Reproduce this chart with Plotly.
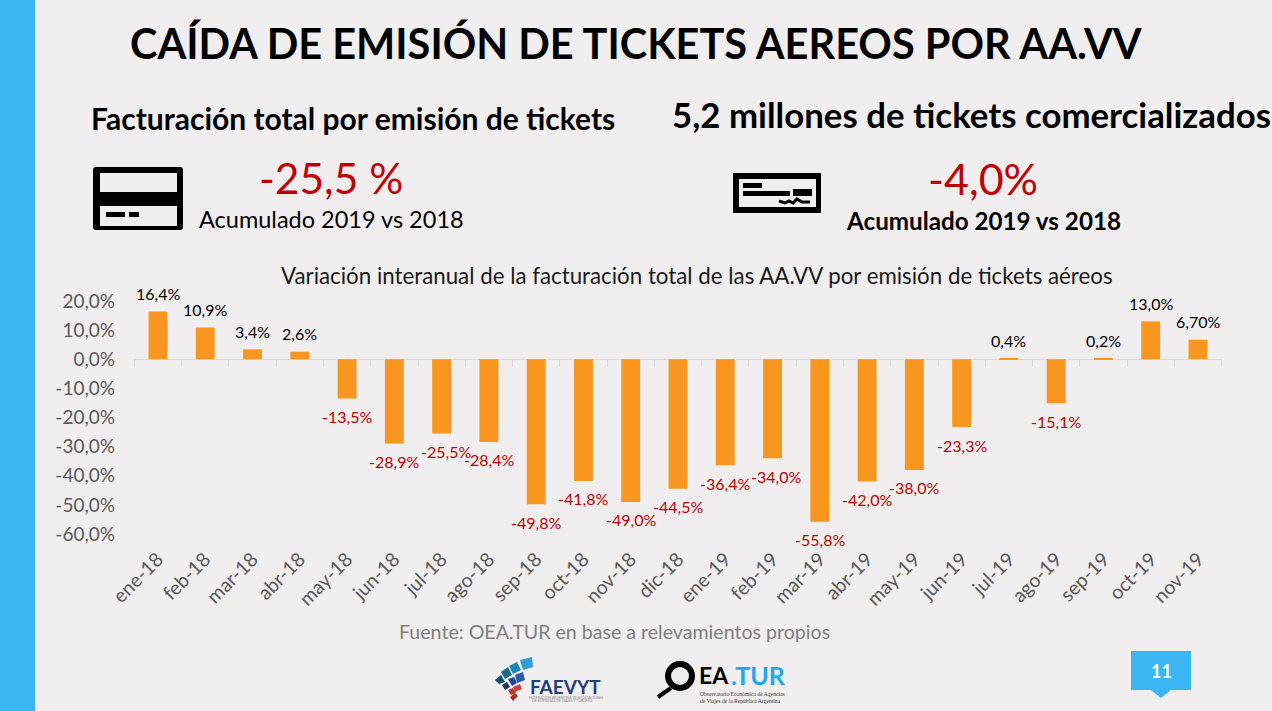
import plotly.graph_objects as go

W, H = 1272, 711
months = ["ene-18","feb-18","mar-18","abr-18","may-18","jun-18","jul-18","ago-18","sep-18","oct-18","nov-18","dic-18",
          "ene-19","feb-19","mar-19","abr-19","may-19","jun-19","jul-19","ago-19","sep-19","oct-19","nov-19"]
variation = [16.4,10.9,3.4,2.6,-13.5,-28.9,-25.5,-28.4,-49.8,-41.8,-49.0,-44.5,
             -36.4,-34.0,-55.8,-42.0,-38.0,-23.3,0.4,-15.1,0.2,13.0,6.7]
labels = ["16,4%","10,9%","3,4%","2,6%","-13,5%","-28,9%","-25,5%","-28,4%","-49,8%","-41,8%","-49,0%","-44,5%",
          "-36,4%","-34,0%","-55,8%","-42,0%","-38,0%","-23,3%","0,4%","-15,1%","0,2%","13,0%","6,70%"]
y_ticks = [20,10,0,-10,-20,-30,-40,-50,-60]
y_tick_labels = ["20,0%","10,0%","0,0%","-10,0%","-20,0%","-30,0%","-40,0%","-50,0%","-60,0%"]

FONT = "Lato"
BG = "#F0EEEF"
BLUE = "#3BB6F3"
RED = "#C00000"
GREY = "#595959"

def fx(x): return x / W
def fy(y): return 1 - y / H

shapes, annotations = [], []

def rect(x0, y0, x1, y1, color):
    shapes.append(dict(type="rect", xref="paper", yref="paper", x0=fx(x0), x1=fx(x1), y0=fy(y0), y1=fy(y1),
                       fillcolor=color, line=dict(width=0), layer="below"))

def poly(points, color):
    d = "M" + " L".join(f"{fx(x):.5f},{fy(y):.5f}" for x, y in points) + " Z"
    shapes.append(dict(type="path", xref="paper", yref="paper", path=d, fillcolor=color, line=dict(width=0), layer="below"))

def rounded(x0, y0, x1, y1, r, color):
    p = lambda x, y: f"{fx(x):.5f},{fy(y):.5f}"
    d = (f"M{p(x0+r,y0)} L{p(x1-r,y0)} Q{p(x1,y0)} {p(x1,y0+r)} L{p(x1,y1-r)} Q{p(x1,y1)} {p(x1-r,y1)} "
         f"L{p(x0+r,y1)} Q{p(x0,y1)} {p(x0,y1-r)} L{p(x0,y0+r)} Q{p(x0,y0)} {p(x0+r,y0)} Z")
    shapes.append(dict(type="path", xref="paper", yref="paper", path=d, fillcolor=color, line=dict(width=0), layer="below"))

def text(s, x, y, size, color="#000000", bold=False, family=FONT, anchor="center"):
    annotations.append(dict(text=f"<b>{s}</b>" if bold else s, x=fx(x), y=fy(y), xref="paper", yref="paper",
                            xanchor=anchor, yanchor="middle", showarrow=False,
                            font=dict(family=family, size=size, color=color)))

# side band
rect(0, 0, 35, H, BLUE)

# card icon
rounded(93, 167, 183, 230, 3, "#000000")
rect(100, 173, 177, 192, BG)
rect(100, 206, 177, 226, BG)
rect(106, 212, 125, 217, "#000000")
rect(129, 212, 139, 217, "#000000")

# cheque icon
rect(733, 173, 821, 213, "#000000")
rect(739, 179, 816, 207, BG)
rect(743, 183, 762, 188, "#000000")
rect(743, 191, 790, 196, "#000000")
rect(793, 189, 812, 196, "#000000")
sig = [(779,201),(785,203),(789,201),(793,203),(797,199),(802,202),(810,202)]
shapes.append(dict(type="path", xref="paper", yref="paper", layer="below",
                   path="M" + " L".join(f"{fx(x):.5f},{fy(y):.5f}" for x, y in sig),
                   line=dict(color="#000000", width=3)))

# page badge
rect(1131, 651, 1191, 690, BLUE)
poly([(1151,690),(1171,690),(1161,698)], BLUE)
text("11", 1161, 671, 18, "#FFFFFF", bold=True)

# FAEVYT logo
for pts, c in [
    ([(520,660),(532,657),(533,667),(523,670)], "#2E9FD8"),
    ([(509,666),(517,662),(521,670),(513,674)], "#1F86B5"),
    ([(501,672),(508,667),(512,675),(505,679)], "#176C8C"),
    ([(495,680),(501,675),(505,682),(499,684)], "#0F5066"),
    ([(515,675),(523,672),(525,680),(517,683)], "#2A5CA8"),
    ([(508,679),(514,677),(517,683),(512,686)], "#24488F"),
    ([(502,685),(507,682),(510,687),(505,690)], "#1F3560"),
    ([(513,687),(520,684),(522,689),(515,692)], "#D04030"),
    ([(508,690),(513,688),(516,693),(511,695)], "#C03830"),
    ([(510,697),(515,693),(518,696),(513,701)], "#A83028"),
]:
    poly(pts, c)
text("FAEVYT", 565, 686, 19, "#1F3F7A", bold=True)
text("FEDERACIÓN ARGENTINA DE ASOCIACIONES", 566, 697, 3.5, "#8A8A8A")
text("DE EMPRESAS DE VIAJES Y TURISMO", 562, 701, 3.5, "#8A8A8A")

# OEA.TUR logo
shapes.append(dict(type="circle", xref="paper", yref="paper", layer="below",
                   x0=fx(668), x1=fx(692), y0=fy(688), y1=fy(664), line=dict(color="#000000", width=6)))
shapes.append(dict(type="line", xref="paper", yref="paper", layer="below",
                   x0=fx(671), y0=fy(688), x1=fx(658), y1=fy(697), line=dict(color="#000000", width=4)))
text("EA", 714, 675, 23, "#000000", bold=True)
text(".TUR", 758, 675, 25, "#1FA8F0", bold=True)
text("Observatorio Económico de Agencias", 742, 694, 5.6, "#333333", family="Liberation Serif")
text("de Viajes de la República Argentina", 741, 701, 5.6, "#333333", family="Liberation Serif")

# headings
text("CAÍDA DE EMISIÓN DE TICKETS AEREOS POR AA.VV", 636, 43, 41.5, bold=True)
text("Facturación total por emisión de tickets", 353, 118, 30, bold=True)
text("5,2 millones de tickets comercializados", 971, 115, 34.8, bold=True)
text("-25,5 %", 331, 177, 42.5, RED)
text("Acumulado 2019 vs 2018", 331, 219, 23.5)
text("-4,0%", 983, 178, 43, RED)
text("Acumulado 2019 vs 2018", 983, 220, 24.2, bold=True)
text("Variación interanual de la facturación total de las AA.VV por emisión de tickets aéreos", 697, 275, 22.3, "#1A1A1A")
text("Fuente: OEA.TUR en base a relevamientos propios", 614, 631, 19.6, "#7F7F7F")

# data labels, anchored on the bar ends
nudges = {"jul-18": 4, "feb-19": 3}
for m, v, s in zip(months, variation, labels):
    annotations.append(dict(text=s, x=m, y=v, xref="x", yref="y", showarrow=False, xanchor="center", yanchor="middle",
                            xshift=nudges.get(m, 0), yshift=18 if v > 0 else -18,
                            font=dict(family=FONT, size=16, color="#000000" if v > 0 else RED)))

fig = go.Figure()
fig.add_trace(go.Bar(x=months, y=variation, marker=dict(color="#F9961F", line=dict(width=0)),
                     cliponaxis=False, xaxis="x", yaxis="y", hoverinfo="skip"))
fig.add_trace(go.Bar(x=months, y=[None]*len(months), xaxis="x2", yaxis="y", hoverinfo="skip", showlegend=False))

y_top, y_bot = 301, 534
zero_pos = fy(359)
x_dom = [fx(134), fx(1222)]
fig.update_layout(
    width=W, height=H, margin=dict(l=0, r=0, t=0, b=0, autoexpand=False), autosize=False,
    paper_bgcolor=BG, plot_bgcolor="rgba(0,0,0,0)", showlegend=False,
    bargap=0.6, barmode="overlay",
    font=dict(family=FONT),
    shapes=shapes, annotations=annotations,
    xaxis=dict(domain=x_dom, type="category", categoryorder="array", categoryarray=months,
               anchor="free", position=zero_pos, side="bottom", layer="below traces",
               showticklabels=False, showgrid=False, tickson="boundaries", ticks="outside", ticklen=7,
               tickcolor="#D9D9D9", showline=True, linecolor="#D9D9D9", linewidth=1, zeroline=False),
    xaxis2=dict(domain=x_dom, type="category", categoryorder="array", categoryarray=months,
                overlaying="x", anchor="y", side="bottom", showgrid=False, showline=False, ticks="",
                tickangle=-45, tickfont=dict(family=FONT, size=19.5, color=GREY), ticklabelstandoff=9),
    yaxis=dict(domain=[fy(y_bot), fy(y_top)], range=[-60, 20], tickmode="array", tickvals=y_ticks, ticktext=y_tick_labels,
               showgrid=False, zeroline=False, showline=False, ticks="",
               tickfont=dict(family=FONT, size=19, color=GREY), ticklabelstandoff=18),
)
fig.write_html("out.html", config=dict(displayModeBar=False), post_script="document.body.style.margin='0';")
